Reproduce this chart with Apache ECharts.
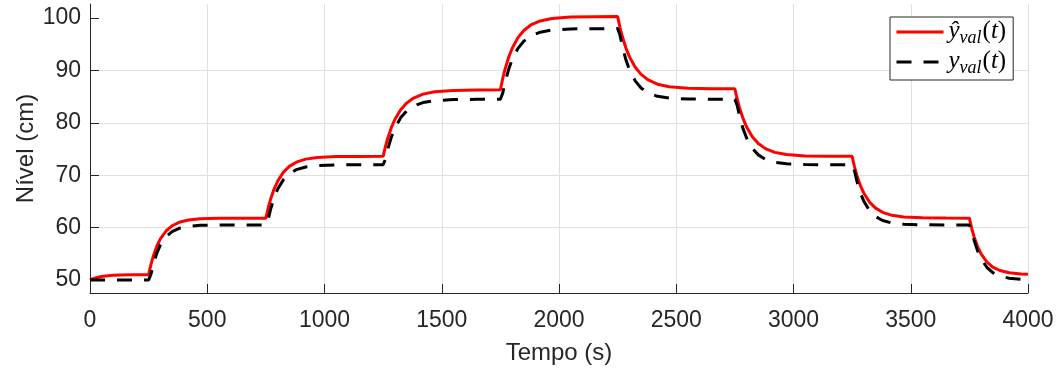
<!DOCTYPE html>
<html>
<head>
<meta charset="utf-8">
<script src="https://cdn.jsdelivr.net/npm/echarts@6/dist/echarts.min.js"></script>
<style>
  html, body { margin: 0; padding: 0; background: #ffffff; }
  #chart { width: 1061px; height: 372px; }
</style>
</head>
<body>
<div id="chart"></div>
<script>
// Sample instants (s) of the validation run; steps occur every 500 s from t = 250 s
const time = [
  0, 10, 20, 35, 50, 75, 100, 130, 170, 220,
  250, 260, 270, 285, 300, 325, 350, 380, 420, 470, 550, 650,
  750, 760, 770, 785, 800, 825, 850, 880, 920, 970, 1050, 1150,
  1250, 1260, 1270, 1285, 1300, 1325, 1350, 1380, 1420, 1470, 1550, 1650,
  1750, 1760, 1770, 1785, 1800, 1825, 1850, 1880, 1920, 1970, 2050, 2150,
  2250, 2260, 2270, 2285, 2300, 2325, 2350, 2380, 2420, 2470, 2550, 2650,
  2750, 2760, 2770, 2785, 2800, 2825, 2850, 2880, 2920, 2970, 3050, 3150,
  3250, 3260, 3270, 3285, 3300, 3325, 3350, 3380, 3420, 3470, 3550, 3650,
  3750, 3760, 3770, 3785, 3800, 3825, 3850, 3880, 3920, 3970, 4000
];

// Model output ŷ_val(t), level in cm
const yHatVal = [
  50.0, 50.19, 50.34, 50.52, 50.65, 50.79, 50.88, 50.93, 50.97, 50.99,
  51.0, 52.96, 54.56, 56.43, 57.83, 59.39, 60.34, 61.0, 61.44, 61.67, 61.77, 61.8,
  61.8, 63.76, 65.4, 67.36, 68.84, 70.58, 71.69, 72.49, 73.07, 73.39, 73.55, 73.59,
  73.6, 75.49, 77.11, 79.07, 80.64, 82.52, 83.77, 84.74, 85.49, 85.93, 86.2, 86.28,
  86.3, 88.46, 90.26, 92.49, 94.21, 96.28, 97.65, 98.69, 99.47, 99.94, 100.21, 100.28,
  100.3, 98.24, 96.49, 94.35, 92.65, 90.61, 89.25, 88.2, 87.38, 86.9, 86.61, 86.52,
  86.5, 84.51, 82.85, 80.8, 79.21, 77.3, 76.04, 75.08, 74.36, 73.94, 73.69, 73.62,
  73.6, 71.64, 70.0, 68.04, 66.56, 64.82, 63.71, 62.91, 62.33, 62.01, 61.85, 61.81,
  61.8, 59.85, 58.24, 56.37, 54.97, 53.41, 52.46, 51.8, 51.36, 51.13, 51.08
];

// Measured level y_val(t), cm
const yVal = [
  50.0, 50.0, 50.0, 50.0, 50.0, 50.0, 50.0, 50.0, 50.0, 50.0,
  50.0, 51.1, 52.97, 55.11, 56.64, 58.28, 59.23, 59.85, 60.23, 60.42, 60.49, 60.5,
  60.5, 61.59, 63.48, 65.69, 67.32, 69.16, 70.27, 71.06, 71.57, 71.84, 71.97, 72.0,
  72.0, 73.09, 74.99, 77.26, 78.99, 81.0, 82.27, 83.21, 83.87, 84.25, 84.44, 84.49,
  84.5, 85.67, 87.73, 90.18, 92.05, 94.22, 95.6, 96.61, 97.32, 97.73, 97.94, 97.99,
  98.0, 96.76, 94.63, 92.09, 90.18, 88.01, 86.67, 85.72, 85.07, 84.72, 84.55, 84.5,
  84.5, 83.31, 81.26, 78.86, 77.09, 75.09, 73.88, 73.03, 72.46, 72.18, 72.03, 72.0,
  72.0, 70.86, 68.92, 66.65, 65.01, 63.18, 62.09, 61.35, 60.87, 60.63, 60.52, 60.5,
  60.5, 59.44, 57.63, 55.54, 54.03, 52.37, 51.4, 50.74, 50.32, 50.1, 50.05
];

const xTicks = [0, 500, 1000, 1500, 2000, 2500, 3000, 3500, 4000];
const yTicks = [50, 60, 70, 80, 90, 100];

const seriesNames = ['ŷval(t)', 'yval(t)'];
const legendRich = {
  'ŷval(t)': '{v|ŷ}{s|val}{p|(}{v|t}{p|)}',
  'yval(t)': '{v|y}{s|val}{p|(}{v|t}{p|)}'
};

const axisColor = '#262626';
const uiFont = 'Liberation Sans, Arial, Helvetica, sans-serif';
const mathFont = 'Liberation Serif, Times New Roman, serif';

const pairs = (ys) => time.map((t, i) => [t, ys[i]]);

const chart = echarts.init(document.getElementById('chart'), null, { renderer: 'canvas' });

chart.setOption({
  animation: false,
  backgroundColor: '#ffffff',
  grid: { left: 90, right: 33, top: 4, bottom: 79, containLabel: false, outerBoundsMode: 'none' },
  legend: {
    data: seriesNames,
    orient: 'vertical',
    left: 890,
    top: 17,
    itemWidth: 47,
    itemHeight: 12,
    itemGap: 2,
    padding: [2, 7, 3, 5],
    backgroundColor: '#ffffff',
    borderColor: axisColor,
    borderWidth: 1,
    borderRadius: 0,
    selectedMode: false,
    itemStyle: { opacity: 0 },
    lineStyle: { width: 3 },
    formatter: (name) => legendRich[name],
    textStyle: {
      color: '#000000',
      rich: {
        v: { fontFamily: mathFont, fontStyle: 'italic', fontSize: 25, lineHeight: 26, verticalAlign: 'top', color: '#000' },
        s: { fontFamily: mathFont, fontStyle: 'italic', fontSize: 18, lineHeight: 18, padding: [10, 1, 0, 0], verticalAlign: 'top', color: '#000' },
        p: { fontFamily: mathFont, fontSize: 25, lineHeight: 26, verticalAlign: 'top', color: '#000' }
      }
    }
  },
  xAxis: {
    type: 'value',
    min: 0,
    max: 4000,
    interval: 500,
    name: 'Tempo (s)',
    nameLocation: 'middle',
    nameGap: 48,
    nameMoveOverlap: false,
    nameTextStyle: { fontFamily: uiFont, fontSize: 24, color: axisColor },
    axisLine: { show: true, onZero: false, lineStyle: { color: axisColor, width: 1 } },
    axisTick: { show: true, inside: true, length: 9, customValues: xTicks, lineStyle: { color: axisColor, width: 1 } },
    axisLabel: { customValues: xTicks, formatter: (v) => String(v), margin: 16, fontFamily: uiFont, fontSize: 23, color: axisColor },
    splitLine: { show: true, lineStyle: { color: '#e0e0e0', width: 1 } }
  },
  yAxis: {
    type: 'value',
    min: 47.5,
    max: 102.7,
    name: 'Nível (cm)',
    nameLocation: 'middle',
    nameGap: 52,
    nameMoveOverlap: false,
    nameTextStyle: { fontFamily: uiFont, fontSize: 24, color: axisColor },
    axisLine: { show: true, onZero: false, lineStyle: { color: axisColor, width: 1 } },
    axisTick: { show: true, inside: true, length: 9, customValues: yTicks, lineStyle: { color: axisColor, width: 1 } },
    axisLabel: { customValues: yTicks, formatter: (v) => String(v), margin: 9, fontFamily: uiFont, fontSize: 23, color: axisColor },
    splitLine: { show: true, showMinLine: false, showMaxLine: false, lineStyle: { color: '#e0e0e0', width: 1 } }
  },
  series: [
    {
      name: seriesNames[0],
      type: 'line',
      data: pairs(yHatVal),
      symbol: 'none',
      lineStyle: { color: '#ff0000', width: 3 },
      itemStyle: { color: '#ff0000' },
      z: 2
    },
    {
      name: seriesNames[1],
      type: 'line',
      data: pairs(yVal),
      symbol: 'none',
      lineStyle: { color: '#000000', width: 3, type: [15, 12] },
      itemStyle: { color: '#000000' },
      z: 3
    }
  ]
});
</script>
</body>
</html>
